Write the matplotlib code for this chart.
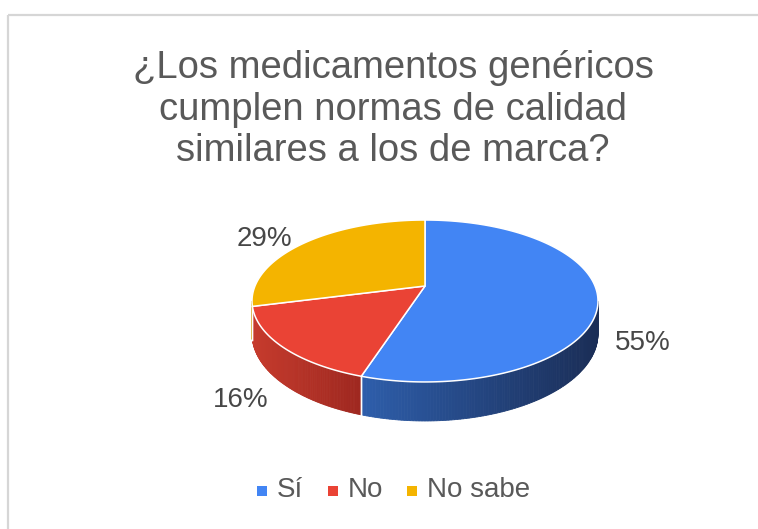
import numpy as np
import matplotlib
matplotlib.use('Agg')
import matplotlib.pyplot as plt
from matplotlib.patches import Polygon
from matplotlib.colors import to_rgb

# data
categories = ['Sí', 'No', 'No sabe']
values = [55, 16, 29]
labels = ['55%', '16%', '29%']
title_lines = ['¿Los medicamentos genéricos',
               'cumplen normas de calidad',
               'similares a los de marca?']

top_colors = ['#4285f4', '#ea4335', '#f4b400']
side_light = ['#2e5eab', '#c63b2d', '#d39c00']
side_dark = ['#1a2d56', '#9e271f', '#a67b00']

plt.rcParams['font.family'] = ['Liberation Sans', 'DejaVu Sans']

W, H = 758, 529
fig = plt.figure(figsize=(W / 100, H / 100), dpi=100)
ax = fig.add_axes([0, 0, 1, 1])
ax.set_xlim(0, W)
ax.set_ylim(H, 0)
ax.axis('off')

# pie geometry (pixels), slight perspective like the sheets 3d pie
cx, cy = 425, 286
A, B, e = 170, 78.2, 0.185
D = 31.8


def proj(t, r=1.0):
    t = np.radians(t)
    w = 1 + e * np.sin(t)
    return cx + r * A * np.cos(t) / w, cy - r * B * np.sin(t) / w


def depth(t):
    return D / (1 + e * np.sin(np.radians(t)))


fracs = np.array(values, dtype=float) / sum(values)
cum = np.concatenate([[0], np.cumsum(fracs)])
starts = 90 - 360 * cum[:-1]
ends = 90 - 360 * cum[1:]

# visible part of the wall lies between the two silhouette points
t_sil = np.degrees(np.arcsin(e))
wall_lo, wall_hi = -180 + t_sil, -t_sil

# side walls drawn as thin strips with a gradient
for i in range(len(values)):
    lo = max(ends[i], wall_lo)
    hi = min(starts[i], wall_hi)
    if lo >= hi:
        continue
    ts = np.linspace(hi, lo, 120)
    xs = [proj(t)[0] for t in ts]
    x0, x1 = min(xs), max(xs)
    c0, c1 = np.array(to_rgb(side_light[i])), np.array(to_rgb(side_dark[i]))
    for ta, tb in zip(ts[:-1], ts[1:]):
        xa, ya = proj(ta)
        xb, yb = proj(tb)
        f = ((xa + xb) / 2 - x0) / max(x1 - x0, 1)
        col = c0 + (c1 - c0) * f
        quad = [(xa, ya), (xb, yb), (xb, yb + depth(tb)), (xa, ya + depth(ta))]
        ax.add_patch(Polygon(quad, closed=True, facecolor=col, edgecolor=col,
                             lw=0.6, zorder=1))
    # white seam where the wedges meet on the side
    for t in (starts[i], ends[i]):
        if wall_lo < t < wall_hi:
            x, y = proj(t)
            ax.plot([x, x], [y, y + depth(t)], color='white', lw=1.0, zorder=2)

# top faces
for i in range(len(values)):
    ts = np.linspace(starts[i], ends[i], 200)
    pts = [proj(0, 0)] + [proj(t) for t in ts]
    ax.add_patch(Polygon(pts, closed=True, facecolor=top_colors[i],
                         edgecolor='white', lw=1.1, zorder=3))

# percentage labels
for i in range(len(values)):
    mid = (starts[i] + ends[i]) / 2
    x, y = proj(mid, 1.1)
    if np.sin(np.radians(mid)) < 0:
        y += depth(mid) + 10
    ha = 'left' if np.cos(np.radians(mid)) > 0 else 'right'
    ax.text(x, y, labels[i], ha=ha, va='center', fontsize=20,
            color='#474747', zorder=5)

# title
for k, line in enumerate(title_lines):
    ax.text(393, 68 + k * 41.5, line, ha='center', va='center',
            fontsize=27.5, color='#595959')

# legend
leg_x = [262, 333, 412]
for i, name in enumerate(categories):
    ax.scatter(leg_x[i], 491, marker='s', s=42, color=top_colors[i],
               linewidths=0, zorder=5)
    ax.text(leg_x[i] + 15, 490, name, ha='left', va='center',
            fontsize=20, color='#595959')

# light frame (top and left edges)
ax.plot([8, W], [14.5, 14.5], color='#d6d6d6', lw=1.6, solid_capstyle='butt')
ax.plot([8, 8], [14.5, H], color='#d6d6d6', lw=1.6, solid_capstyle='butt')

fig.savefig('out.png', dpi=100)
